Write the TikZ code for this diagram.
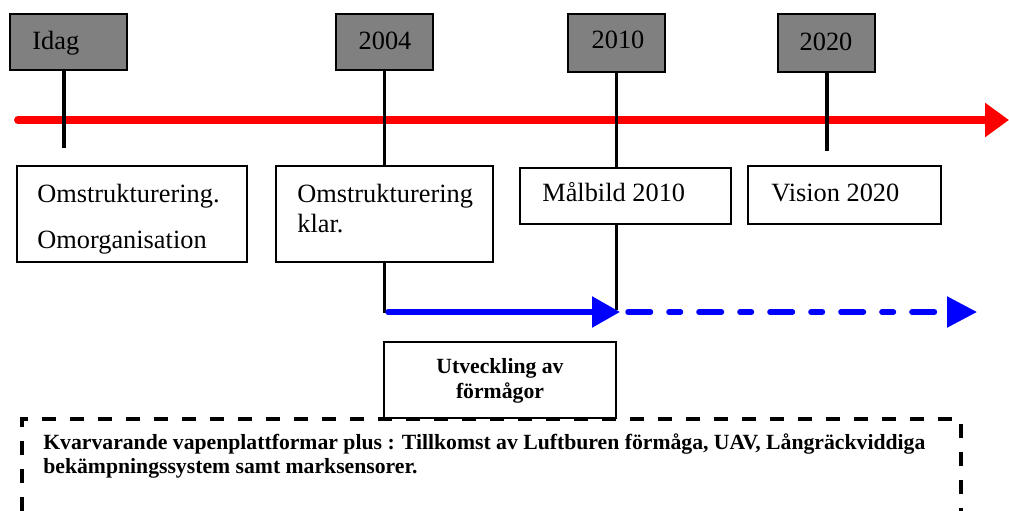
\documentclass[tikz,border=0pt]{standalone}
\usepackage{fontspec}
\setmainfont{Liberation Serif}
\usetikzlibrary{arrows.meta,fit}
\definecolor{yeargray}{RGB}{128,128,128}
\definecolor{tred}{RGB}{255,0,0}
\definecolor{tblue}{RGB}{0,0,255}
\begin{document}
\begin{tikzpicture}[x=0.02cm,y=-0.02cm,
  yearbox/.style={draw=black,fill=yeargray,line width=0.026cm,inner sep=0pt},
  evbox/.style={draw=black,fill=white,line width=0.026cm,inner sep=0pt},
  txt/.style={inner sep=0pt,font=\fontsize{15}{18}\selectfont},
  btxt/.style={inner sep=0pt,font=\fontsize{12.35}{13.6}\selectfont\bfseries},
  tick/.style={draw=black,line width=0.066cm},
  redline/.style={draw=tred,line width=0.16cm,line cap=round,-{Triangle[length=0.48cm,width=0.66cm]}},
  blueline/.style={draw=tblue,line width=0.11cm,line cap=round,-{Triangle[length=0.56cm,width=0.6cm]}},
  bluedash/.style={draw=tblue,line width=0.11cm,line cap=round,dash pattern=on 0.45cm off 0.37cm on 0.23cm off 0.37cm,-{Triangle[length=0.6cm,width=0.6cm]}},
  bigdash/.style={draw=black,line width=0.09cm,dash pattern=on 0.28cm off 0.28cm}
]
\useasboundingbox (0,0) rectangle (1009,511);

% red time axis
\coordinate (r0) at (18,120);
\coordinate (r1) at (1009,120);
\draw[redline] (r0) -- (r1);

% year boxes
\node[yearbox,fit={(10,14)(127,70)}] (y0) {};
\node[yearbox,fit={(336,14)(433,70)}] (y1) {};
\node[yearbox,fit={(568,14)(665,72)}] (y2) {};
\node[yearbox,fit={(778,14)(875,72)}] (y3) {};
\node[txt,anchor=base west] (ty0) at (32,49) {Idag};
\node[txt,anchor=base] (ty1) at (385,49) {2004};
\node[txt,anchor=base] (ty2) at (618,48) {2010};
\node[txt,anchor=base] (ty3) at (826,50) {2020};

% event boxes
\node[evbox,fit={(17,166)(247,262)}] (b0) {};
\node[evbox,fit={(276,166)(493,262)}] (b1) {};
\node[evbox,fit={(520,168)(731,224)}] (b2) {};
\node[evbox,fit={(748,166)(941,224)}] (b3) {};
\node[txt,anchor=base west] (tb0a) at (37,202) {Omstrukturering.};
\node[txt,anchor=base west] (tb0b) at (37,248) {Omorganisation};
\node[txt,anchor=base west] (tb1a) at (297,202) {Omstrukturering};
\node[txt,anchor=base west] (tb1b) at (297,232) {klar.};
\node[txt,anchor=base west] (tb2) at (542,201) {Målbild 2010};
\node[txt,anchor=base west] (tb3) at (771,201) {Vision 2020};

% ticks
\coordinate (k0) at (64,148);
\coordinate (k3) at (827,151);
\draw[tick] (y0.south -| k0) -- (k0);
\draw[tick] (y1.south) -- (b1.north);
\draw[tick] (y2.south) -- (y2.south |- b2.north);
\draw[tick] (y3.south -| k3) -- (k3);

% blue development arrows
\coordinate (bs) at (388,312);
\coordinate (be) at (620,312);
\coordinate (ds) at (628,312);
\coordinate (de) at (977,312);
\draw[tick] (b1.south) -- ([yshift=-0.02cm]b1.south |- bs);
\draw[tick] (b2.south -| y2.south) -- ([yshift=0.04cm]y2.south |- bs);
\draw[blueline] (bs) -- (be);
\draw[bluedash] (ds) -- (de);

% development box
\node[evbox,fit={(384,342)(616,418)}] (u) {};
\node[btxt,anchor=base] (tu1) at (500,373) {Utveckling av};
\node[btxt,anchor=base] (tu2) at (500,398) {förmågor};

% dashed frame
\coordinate (f0) at (22,511);
\coordinate (f1) at (22,419);
\coordinate (f2) at (961,419);
\coordinate (f3) at (961,511);
\draw[bigdash] (f0) -- (f1) -- (f2) -- (f3);
\node[btxt,anchor=base west] (tf1) at (43,449) {Kvarvarande vapenplattformar plus : Tillkomst av Luftburen förmåga, UAV, Långräckviddiga};
\node[btxt,anchor=base west] (tf2) at (43,473) {bekämpningssystem samt marksensorer.};
\end{tikzpicture}
\end{document}
